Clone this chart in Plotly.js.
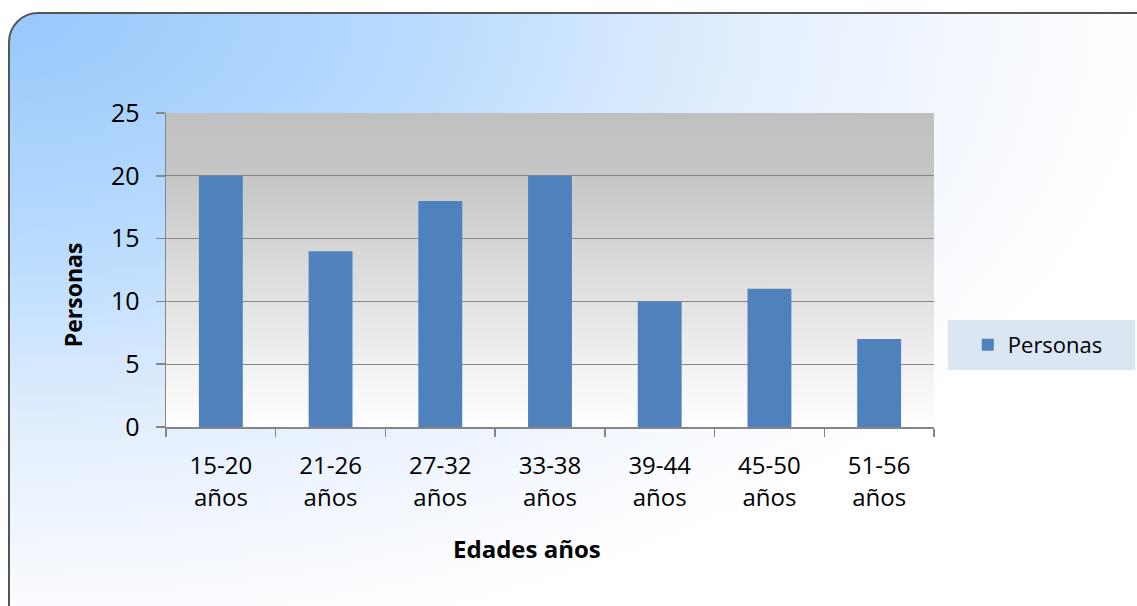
<!DOCTYPE html>
<html>
<head>
<meta charset="utf-8">
<script src="https://cdn.plot.ly/plotly-3.0.1.min.js"></script>
<style>
  html, body { margin: 0; padding: 0; background: #ffffff; overflow: hidden; }
  #frame {
    position: absolute; left: 8px; top: 12px; width: 1160px; height: 640px;
    border: 2px solid #555; border-radius: 30px; box-sizing: border-box;
    background: radial-gradient(1150px 650px at 0 0, #98c7fb 0%, #b8dbff 35%, #e4effd 65%, #fdfdff 95%, #ffffff 100%);
  }
  #chart { position: absolute; left: 0; top: 0; width: 1137px; height: 606px; }
</style>
</head>
<body>
<div id="frame"></div>
<div id="chart"></div>
<script>
const categories = ["15-20<br>años", "21-26<br>años", "27-32<br>años", "33-38<br>años", "39-44<br>años", "45-50<br>años", "51-56<br>años"];
const personas = [20, 14, 18, 20, 10, 11, 7];
const yTicks = [0, 5, 10, 15, 20, 25];
const seriesName = "Personas";
const xTitle = "Edades años";
const yTitle = "Personas";

const plotBg = 'data:image/svg+xml;utf8,' + encodeURIComponent(
  '<svg xmlns="http://www.w3.org/2000/svg" width="100" height="100" preserveAspectRatio="none">' +
  '<defs><linearGradient id="g" x1="0" y1="0" x2="0" y2="1">' +
  '<stop offset="0" stop-color="#c0c0c0"/><stop offset="0.2" stop-color="#c6c6c6"/><stop offset="1" stop-color="#ffffff"/>' +
  '</linearGradient></defs><rect width="100" height="100" fill="url(#g)"/></svg>');

const font = "'Open Sans', Lato, 'DejaVu Sans', sans-serif";

Plotly.newPlot('chart', [{
  type: 'bar',
  x: categories,
  y: personas,
  name: seriesName,
  showlegend: true,
  marker: { color: '#4f81bd', line: { width: 0 } }
}], {
  width: 1137, height: 606,
  margin: { l: 166, r: 203, t: 113, b: 179 },
  paper_bgcolor: 'rgba(0,0,0,0)',
  plot_bgcolor: 'rgba(0,0,0,0)',
  bargap: 0.6,
  font: { family: font, color: '#000', size: 24 },
  images: [{
    source: plotBg, xref: 'paper', yref: 'paper', x: 0, y: 1, sizex: 1, sizey: 1,
    sizing: 'stretch', layer: 'below', xanchor: 'left', yanchor: 'top'
  }],
  shapes: [{
    type: 'rect', xref: 'paper', yref: 'paper', layer: 'below',
    x0: 1.018, x1: 1.262, y0: 0.1815, y1: 0.341,
    fillcolor: '#dbe6f3', line: { width: 0 }
  }],
  annotations: [{
    text: '<b>' + yTitle + '</b>', xref: 'paper', yref: 'paper',
    x: -0.121, y: 0.42, xanchor: 'center', yanchor: 'middle',
    textangle: -90, showarrow: false,
    font: { size: 23, family: font }
  }, {
    text: '<b>' + xTitle + '</b>', xref: 'paper', yref: 'paper',
    x: 0.47, y: -0.3885, xanchor: 'center', yanchor: 'middle',
    showarrow: false,
    font: { size: 24, family: font }
  }],
  xaxis: {
    type: 'category',
    showline: true, linecolor: '#868686', linewidth: 1.5,
    ticks: 'outside', tickson: 'boundaries', ticklen: 8, tickcolor: '#868686', tickwidth: 1.5,
    showgrid: false,
    tickfont: { size: 24, family: font },
    ticklabelstandoff: 17
  },
  yaxis: {
    range: [0, 25], tickvals: yTicks, ticktext: yTicks.map(String),
    showline: true, linecolor: '#868686', linewidth: 1.5,
    ticks: 'outside', ticklen: 9, tickcolor: '#868686', tickwidth: 1.5,
    showgrid: true, gridcolor: '#868686', gridwidth: 1.2,
    zeroline: false,
    tickfont: { size: 25, family: font },
    ticklabelstandoff: 11
  },
  legend: {
    x: 1.044, y: 0.261, xanchor: 'left', yanchor: 'middle',
    bgcolor: 'rgba(0,0,0,0)', borderwidth: 0,
    font: { size: 22, family: font },
    itemwidth: 30
  }
}, { displayModeBar: false, staticPlot: true });
</script>
</body>
</html>
